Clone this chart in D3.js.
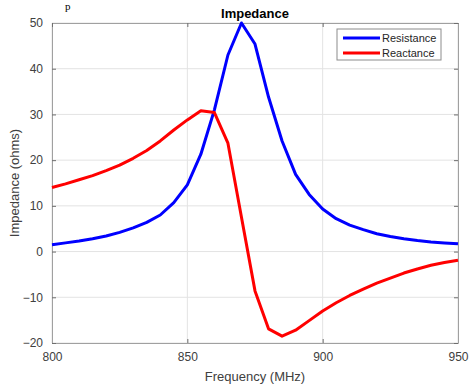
<!DOCTYPE html>
<html>
<head>
<meta charset="utf-8">
<script src="https://cdn.jsdelivr.net/npm/d3@7"></script>
<style>
  body { margin: 0; background: #fff; }
  svg { display: block; font-family: "Liberation Sans", Arial, sans-serif; }
</style>
</head>
<body>
<div id="chart"></div>
<script>
// frequency (MHz), 5 MHz steps
var freq = [800, 805, 810, 815, 820, 825, 830, 835, 840, 845, 850, 855, 860, 865, 870, 875,
            880, 885, 890, 895, 900, 905, 910, 915, 920, 925, 930, 935, 940, 945, 950];
var resistance = [1.5, 1.9, 2.3, 2.8, 3.4, 4.2, 5.2, 6.4, 8.0, 10.7, 14.6, 21.3, 31.0, 43.0, 50.0, 45.4,
                  33.8, 24.2, 16.9, 12.5, 9.3, 7.2, 5.8, 4.8, 3.9, 3.3, 2.8, 2.4, 2.1, 1.9, 1.7];
var reactance = [14.0, 14.8, 15.7, 16.6, 17.7, 18.9, 20.4, 22.1, 24.2, 26.6, 28.8, 30.8, 30.4, 23.7, 7.5, -8.6,
                 -16.9, -18.5, -17.2, -15.1, -13.0, -11.2, -9.6, -8.2, -6.9, -5.8, -4.7, -3.8, -3.0, -2.4, -1.9];
var xTicks = [800, 850, 900, 950];
var yTicks = [-20, -10, 0, 10, 20, 30, 40, 50];
var seriesNames = ["Resistance", "Reactance"];
var seriesColors = ["#0000ff", "#ff0000"];

var margin = { top: 23, right: 13, bottom: 44, left: 52 };
var width = 471 - margin.left - margin.right;
var height = 387 - margin.top - margin.bottom;

var svg = d3.select("#chart").append("svg")
    .attr("width", 471)
    .attr("height", 387);

// bit of document text at the top
svg.append("text")
    .attr("x", 65)
    .attr("y", 10)
    .style("font-family", "'Liberation Serif', serif")
    .style("font-size", "11px")
    .attr("fill", "#000")
    .text("p");

var g = svg.append("g")
    .attr("transform", "translate(" + margin.left + "," + margin.top + ")");

var x = d3.scaleLinear().domain([800, 950]).range([0, width]);
var y = d3.scaleLinear().domain([-20, 50]).range([height, 0]);

// grid
g.append("g").selectAll("line.gx")
    .data(xTicks)
    .enter().append("line")
    .attr("x1", function (d) { return x(d); })
    .attr("x2", function (d) { return x(d); })
    .attr("y1", 0).attr("y2", height)
    .attr("stroke", "#e3e3e3").attr("stroke-width", 1);
g.append("g").selectAll("line.gy")
    .data(yTicks)
    .enter().append("line")
    .attr("y1", function (d) { return y(d); })
    .attr("y2", function (d) { return y(d); })
    .attr("x1", 0).attr("x2", width)
    .attr("stroke", "#e3e3e3").attr("stroke-width", 1);

// axes, ticks pointing inward like matlab
function styleAxis(sel) {
    sel.select(".domain").attr("stroke", "#a0a0a0");
    sel.selectAll(".tick line").attr("stroke", "#6e6e6e");
    sel.selectAll("text").attr("fill", "#404040").style("font-size", "12px")
        .style("font-family", "'Liberation Sans', Arial, sans-serif");
}

g.append("g")
    .attr("transform", "translate(0," + height + ")")
    .call(d3.axisBottom(x).tickValues(xTicks).tickSizeInner(-4).tickSizeOuter(0).tickPadding(9).tickFormat(d3.format("d")))
    .call(styleAxis);
g.append("g")
    .call(d3.axisLeft(y).tickValues(yTicks).tickSizeInner(-4).tickSizeOuter(0).tickPadding(9).tickFormat(d3.format("d")))
    .call(styleAxis);
g.append("g")
    .call(d3.axisTop(x).tickValues(xTicks).tickSizeInner(-4).tickSizeOuter(0).tickFormat(""))
    .call(styleAxis);
g.append("g")
    .attr("transform", "translate(" + width + ",0)")
    .call(d3.axisRight(y).tickValues(yTicks).tickSizeInner(-4).tickSizeOuter(0).tickFormat(""))
    .call(styleAxis);

// lines
var series = [resistance, reactance];
series.forEach(function (vals, i) {
    var line = d3.line()
        .x(function (d, j) { return x(freq[j]); })
        .y(function (d) { return y(d); });
    g.append("path")
        .datum(vals)
        .attr("d", line)
        .attr("fill", "none")
        .attr("stroke", seriesColors[i])
        .attr("stroke-width", 3)
        .attr("stroke-linejoin", "round");
});

// title + labels
svg.append("text")
    .attr("x", margin.left + width / 2)
    .attr("y", 18)
    .attr("text-anchor", "middle")
    .style("font-size", "13px")
    .style("font-weight", "bold")
    .attr("fill", "#000")
    .text("Impedance");

svg.append("text")
    .attr("x", margin.left + width / 2)
    .attr("y", 381)
    .attr("text-anchor", "middle")
    .style("font-size", "13px")
    .attr("fill", "#404040")
    .text("Frequency (MHz)");

svg.append("text")
    .attr("transform", "translate(19," + (margin.top + height / 2) + ") rotate(-90)")
    .attr("text-anchor", "middle")
    .style("font-size", "13px")
    .attr("fill", "#404040")
    .text("Impedance (ohms)");

// legend
var leg = svg.append("g").attr("transform", "translate(337,29)");
leg.append("rect")
    .attr("width", 104).attr("height", 31)
    .attr("fill", "#fff").attr("stroke", "#8c8c8c").attr("stroke-width", 1);
seriesNames.forEach(function (name, i) {
    leg.append("line")
        .attr("x1", 6).attr("x2", 43)
        .attr("y1", 9 + i * 15).attr("y2", 9 + i * 15)
        .attr("stroke", seriesColors[i]).attr("stroke-width", 3);
    leg.append("text")
        .attr("x", 45).attr("y", 13 + i * 15)
        .style("font-size", "11px")
        .attr("fill", "#262626")
        .text(name);
});
</script>
</body>
</html>
